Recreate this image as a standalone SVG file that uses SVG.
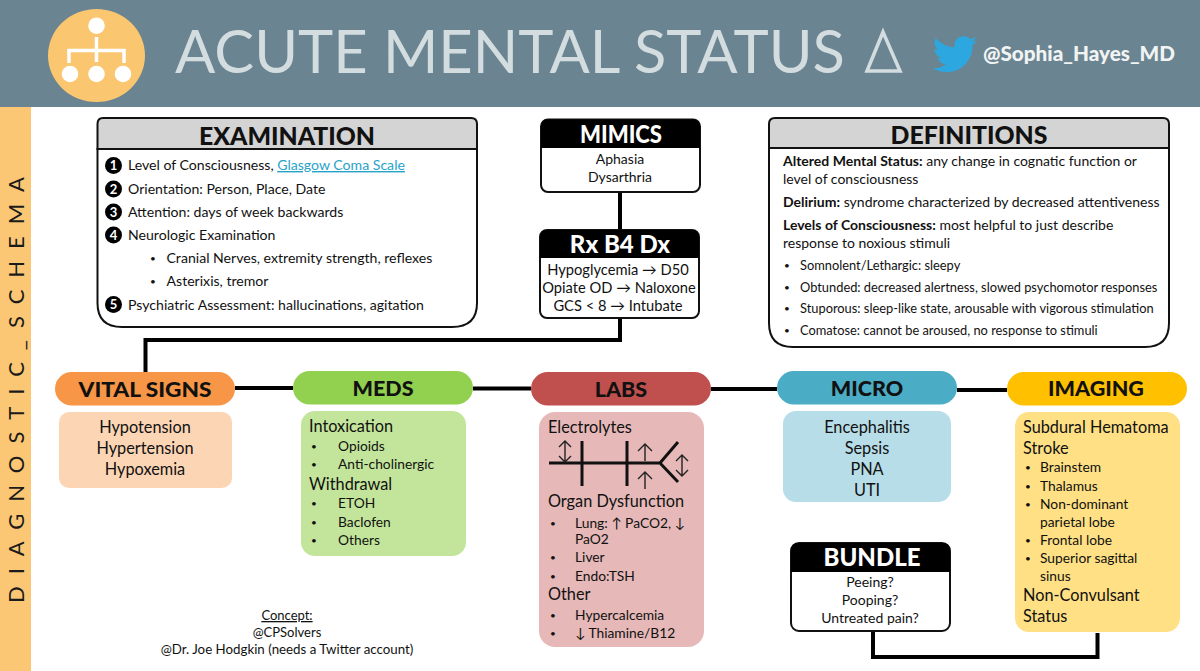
<svg xmlns="http://www.w3.org/2000/svg" width="1200" height="671" viewBox="0 0 1200 671">
<style>
text{font-family:Lato,"Liberation Sans",sans-serif;fill:#111}
.a{font-family:Lato,"DejaVu Sans",sans-serif}
.c{text-anchor:middle}
.t{font-weight:900;font-size:24px;text-anchor:middle}
.p{font-weight:900;font-size:21.5px;text-anchor:middle}
.b{font-size:14.1px}
.r{font-size:14px;text-anchor:middle}
.x{font-size:14.7px;text-anchor:middle}
.d{font-size:14px}
.s{font-size:12.85px}
.h{font-size:16.3px}
.m{font-size:13.8px}
.u{font-size:10px}
.nb{fill:#000}
.box{fill:#fff;stroke:#111;stroke-width:2}
.hd{fill:#d4d4d4;stroke:#111;stroke-width:2}
.con{stroke:#000;stroke-width:4;fill:none}
.fb{stroke:#111;stroke-width:3;fill:none}
.ar{stroke:#222;stroke-width:1.4;fill:none}
.dig{fill:#fff;font-size:13px;font-weight:700;text-anchor:middle}
</style>
<g id="header">
<rect width="1200" height="107" fill="#6a8591"/>
<ellipse cx="96.500" cy="55.500" rx="48.500" ry="46.500" fill="#fac670"/>
<g fill="#fff"><circle cx="96.500" cy="25.700" r="8.300"/><circle cx="70" cy="74" r="8.300"/><circle cx="96.500" cy="74" r="8.300"/><circle cx="123" cy="74" r="8.300"/></g>
<path d="M96.500 37V62M69 63V50.500H124V63" fill="none" stroke="#fff" stroke-width="3.500"/>
<text x="175" y="73" font-size="60" style="fill:#d3dde0" textLength="670" lengthAdjust="spacingAndGlyphs">ACUTE MENTAL STATUS</text>
<path d="M867 71L883 32L900 71Z" fill="none" stroke="#d3dde0" stroke-width="3.500"/>
<path transform="translate(0 -3)" d="M977 43.500c-1.600.7-3.300 1.200-5.200 1.400 1.900-1.100 3.300-2.900 4-5-1.800 1-3.700 1.800-5.800 2.200-1.700-1.800-4-2.900-6.600-2.900-5 0-9.100 4-9.100 9.100 0 .7.100 1.400.2 2-7.500-.4-14.200-4-18.700-9.400-.8 1.300-1.200 2.900-1.200 4.500 0 3.100 1.600 5.900 4 7.500-1.500 0-2.900-.5-4.100-1.100v.1c0 4.400 3.100 8.100 7.300 8.900-.8.200-1.600.3-2.400.3-.6 0-1.200-.1-1.700-.2 1.200 3.600 4.500 6.200 8.500 6.300-3.100 2.400-7 3.900-11.300 3.900-.7 0-1.500 0-2.200-.1 4 2.600 8.800 4.100 13.900 4.100 16.700 0 25.900-13.800 25.900-25.900v-1.200c1.800-1.200 3.300-2.800 4.500-4.500z" fill="#2ca7e0"/>
<text x="983" y="61" font-size="21" font-weight="900" style="fill:#f2f4f4" textLength="192" lengthAdjust="spacingAndGlyphs">@Sophia_Hayes_MD</text>
</g>
<g id="side-label">
<rect y="107" width="31" height="564" fill="#fbc774"/>
<text transform="translate(24 603) rotate(-90)" font-size="22" textLength="426" lengthAdjust="spacing" style="fill:#1a1a1a">DIAGNOSTIC_SCHEMA</text>
</g>
<g id="connectors">
<path class="con" d="M145.500 373V340H620V318M620 230V192"/>
<path class="con" d="M235 388H293M473 388.500H531M711 389H777M957 390H1007"/>
<path class="con" d="M873 631V657H1097.500V633"/>
</g>
<g id="examination">
<path d="M97.500 149H477V303Q477 327 452 327H122Q97.500 327 97.500 303Z" fill="#fff" stroke="#111" stroke-width="2"/>
<path class="hd" d="M97.500 149V124Q97.500 118 103 118H471Q477 118 477 124V149Z"/>
<text class="t" x="287" y="145" textLength="176" lengthAdjust="spacingAndGlyphs">EXAMINATION</text>
<g class="nb"><circle cx="113.500" cy="165.500" r="8.500"/><circle cx="113.500" cy="189" r="8.500"/><circle cx="113.500" cy="212" r="8.500"/><circle cx="113.500" cy="235" r="8.500"/><circle cx="113.500" cy="304.500" r="8.500"/></g>
<text class="dig" x="113.500" y="170">1</text><text class="dig" x="113.500" y="193.500">2</text><text class="dig" x="113.500" y="216.500">3</text><text class="dig" x="113.500" y="239.500">4</text><text class="dig" x="113.500" y="309">5</text>
<text class="b" x="128" y="170">Level of Consciousness, <tspan style="fill:#27a3c9" text-decoration="underline">Glasgow Coma Scale</tspan></text>
<text class="b" x="128" y="194">Orientation: Person, Place, Date</text>
<text class="b" x="128" y="217">Attention: days of week backwards</text>
<text class="b" x="128" y="240">Neurologic Examination</text>
<text class="u" x="150" y="262">•</text><text class="b" x="166.500" y="263">Cranial Nerves, extremity strength, reflexes</text>
<text class="u" x="150" y="285">•</text><text class="b" x="166.500" y="286">Asterixis, tremor</text>
<text class="b" x="128" y="310">Psychiatric Assessment: hallucinations, agitation</text>
</g>
<g id="mimics">
<rect class="box" x="541" y="119.500" width="159" height="72.500" rx="7"/>
<path d="M541 148V127Q541 119.500 548 119.500H693Q700 119.500 700 127V148Z" fill="#000"/>
<text class="t" x="621" y="143" style="fill:#fff" textLength="82" lengthAdjust="spacingAndGlyphs">MIMICS</text>
<text class="r" x="620" y="164">Aphasia</text>
<text class="r" x="620" y="182">Dysarthria</text>
</g>
<g id="rx">
<rect class="box" x="540" y="230" width="159" height="88" rx="7"/>
<path d="M540 258V237Q540 230 547 230H692Q699 230 699 237V258Z" fill="#000"/>
<text class="t" x="620" y="253" style="fill:#fff">Rx B4 Dx</text>
<text class="x a" x="618" y="275">Hypoglycemia → D50</text>
<text class="x a" x="619" y="293">Opiate OD → Naloxone</text>
<text class="x a" x="618" y="311">GCS &lt; 8 → Intubate</text>
</g>
<g id="definitions">
<path d="M769 148H1169V323Q1169 347 1145 347H793Q769 347 769 323Z" fill="#fff" stroke="#111" stroke-width="2"/>
<path class="hd" d="M769 148V124Q769 118 775 118H1163Q1169 118 1169 124V148Z"/>
<text class="t" x="969" y="144" textLength="157" lengthAdjust="spacingAndGlyphs">DEFINITIONS</text>
<text class="d" x="783" y="166"><tspan font-weight="700">Altered Mental Status:</tspan> any change in cognatic function or</text>
<text class="d" x="783" y="184">level of consciousness</text>
<text class="d" x="783" y="207"><tspan font-weight="700">Delirium:</tspan> syndrome characterized by decreased attentiveness</text>
<text class="d" x="783" y="230"><tspan font-weight="700">Levels of Consciousness:</tspan> most helpful to just describe</text>
<text class="d" x="783" y="248">response to noxious stimuli</text>
<text class="u" x="784" y="269">•</text><text class="s" x="800" y="270">Somnolent/Lethargic: sleepy</text>
<text class="u" x="784" y="291">•</text><text class="s" x="800" y="292">Obtunded: decreased alertness, slowed psychomotor responses</text>
<text class="u" x="784" y="312">•</text><text class="s" x="800" y="313">Stuporous: sleep-like state, arousable with vigorous stimulation</text>
<text class="u" x="784" y="334">•</text><text class="s" x="800" y="335">Comatose: cannot be aroused, no response to stimuli</text>
</g>
<g id="vital-signs">
<rect x="55" y="372" width="180" height="33.500" rx="16.700" fill="#f79646"/>
<text class="p" x="145" y="397" textLength="133" lengthAdjust="spacingAndGlyphs">VITAL SIGNS</text>
<rect x="59" y="412" width="173" height="76" rx="10" fill="#fcd5b5"/>
<text class="h c" x="145" y="433">Hypotension</text><text class="h c" x="145" y="454">Hypertension</text><text class="h c" x="145" y="475">Hypoxemia</text>
</g>
<g id="meds">
<rect x="293" y="371" width="180" height="33.500" rx="16.700" fill="#92d050"/>
<text class="p" x="383" y="396">MEDS</text>
<rect x="301" y="411" width="165" height="145" rx="14" fill="#c3e59b"/>
<text class="h" x="309" y="432">Intoxication</text>
<text class="u" x="311" y="450">•</text><text class="m" x="338" y="451">Opioids</text>
<text class="u" x="311" y="468">•</text><text class="m" x="338" y="469">Anti-cholinergic</text>
<text class="h" x="309" y="490">Withdrawal</text>
<text class="u" x="311" y="507">•</text><text class="m" x="338" y="508">ETOH</text>
<text class="u" x="311" y="526">•</text><text class="m" x="338" y="527">Baclofen</text>
<text class="u" x="311" y="544">•</text><text class="m" x="338" y="545">Others</text>
</g>
<g id="labs">
<rect x="531" y="372" width="180" height="33.500" rx="16.700" fill="#c0504d"/>
<text class="p" x="621" y="397">LABS</text>
<rect x="539" y="412" width="165" height="235" rx="16" fill="#e6b9b8"/>
<text class="h" x="548" y="433">Electrolytes</text>
<path class="fb" d="M549 463H660L678 442M660 463L678 482M582 441V486M627 441V486"/>
<path class="ar" d="M565 441V462M559 447L565 441L571 447M559 456L565 462L571 456M645 444V461M638 451L645 444L652 451M645 472V489M638 479L645 472L652 479M682 455V476M676 461L682 455L688 461M676 470L682 476L688 470"/>
<text class="h" x="548" y="507">Organ Dysfunction</text>
<text class="u" x="550" y="527">•</text><text class="m a" x="575" y="528">Lung: ↑ PaCO2, ↓</text>
<text class="m" x="575" y="544">PaO2</text>
<text class="u" x="550" y="561">•</text><text class="m" x="575" y="562">Liver</text>
<text class="u" x="550" y="580">•</text><text class="m" x="575" y="581">Endo:TSH</text>
<text class="h" x="548" y="600">Other</text>
<text class="u" x="550" y="619">•</text><text class="m" x="575" y="620">Hypercalcemia</text>
<text class="u" x="550" y="637">•</text><text class="m a" x="575" y="638">↓ Thiamine/B12</text>
</g>
<g id="micro">
<rect x="777" y="371" width="180" height="33.500" rx="16.700" fill="#4bacc6"/>
<text class="p" x="867" y="396">MICRO</text>
<rect x="783" y="411" width="168" height="91" rx="13" fill="#b7dde8"/>
<text class="h c" x="867" y="433">Encephalitis</text><text class="h c" x="867" y="454">Sepsis</text><text class="h c" x="867" y="475">PNA</text><text class="h c" x="867" y="496">UTI</text>
</g>
<g id="imaging">
<rect x="1007" y="372" width="180" height="33.500" rx="16.700" fill="#ffc000"/>
<text class="p" x="1096" y="396">IMAGING</text>
<rect x="1015" y="412" width="165" height="220" rx="14" fill="#ffe084"/>
<text class="h" x="1023" y="433">Subdural Hematoma</text>
<text class="h" x="1023" y="454">Stroke</text>
<text class="u" x="1025" y="471">•</text><text class="m" x="1040" y="472">Brainstem</text>
<text class="u" x="1025" y="490">•</text><text class="m" x="1040" y="491">Thalamus</text>
<text class="u" x="1025" y="508">•</text><text class="m" x="1040" y="509">Non-dominant</text>
<text class="m" x="1040" y="527">parietal lobe</text>
<text class="u" x="1025" y="544">•</text><text class="m" x="1040" y="545">Frontal lobe</text>
<text class="u" x="1025" y="562">•</text><text class="m" x="1040" y="563">Superior sagittal</text>
<text class="m" x="1040" y="581">sinus</text>
<text class="h" x="1023" y="601">Non-Convulsant</text>
<text class="h" x="1023" y="622">Status</text>
</g>
<g id="bundle">
<rect class="box" x="791" y="543" width="159" height="88" rx="8"/>
<path d="M791 572V550Q791 543 798 543H943Q950 543 950 550V572Z" fill="#000"/>
<text class="t" x="872" y="566" style="fill:#fff">BUNDLE</text>
<text class="r" x="870" y="587">Peeing?</text><text class="r" x="870" y="605">Pooping?</text><text class="r" x="870" y="623">Untreated pain?</text>
</g>
<g id="credits">
<text class="c" x="287" y="620" font-size="13" text-decoration="underline">Concept:</text>
<text class="c" x="287" y="637" font-size="13">@CPSolvers</text>
<text class="c" x="287" y="654" font-size="13.300">@Dr. Joe Hodgkin (needs a Twitter account)</text>
</g>
</svg>
